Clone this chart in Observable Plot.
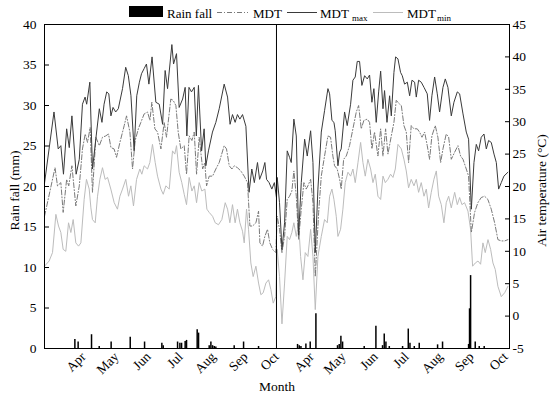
<!DOCTYPE html>
<html><head><meta charset="utf-8">
<script src="https://cdn.jsdelivr.net/npm/d3@7"></script>
<script src="https://cdn.jsdelivr.net/npm/@observablehq/plot@0.6"></script>
<style>
body{margin:0;background:#fff;}
#wrap{position:relative;width:550px;height:398px;font-family:"Liberation Serif","Times New Roman",serif;}
#legend{position:absolute;left:0;top:0;}
</style></head><body><div id="wrap"></div>
<script>
// x unit: day index along the two growing seasons (season 2 starts at the divider)
const monthTickDays   = [37, 68.3, 98.6, 129, 160.3, 190.6, 220, 253.3, 283.6, 314, 343.4, 375.6, 405, 437.3];
const monthTickLabels = ["Apr","May","Jun","Jul","Aug","Sep","Oct","Apr","May","Jun","Jul","Aug","Sep","Oct"];
const seasonDivider = 220;
const rainTicks = [0,5,10,15,20,25,30,35,40];
const tempTicks = [-5,0,5,10,15,20,25,30,35,40,45];

// [day, °C]
const mdtMax1 = [[0,20.5],[9,31.5],[13,25.8],[15.5,26.3],[18,21.9],[21,28.9],[23.5,26],[26,30.9],[30,21.9],[33,24.2],[36,32.7],[38.5,33.8],[40,32.7],[43,36.1],[45.5,22.7],[49,27.8],[52,32],[54.5,29.9],[56.5,32.7],[59,34.6],[61,34.3],[63,30.9],[65,32.2],[67.5,31.5],[70,32],[74,35.1],[77,38.4],[79.5,37.1],[82,34],[85,25.5],[87.5,34],[90,36.1],[92,37.4],[94.5,38.2],[96.7,38.9],[99,35.8],[102,40],[105.6,33],[108.8,32.7],[112,29.6],[114.4,37.9],[116.7,35.1],[120.8,41.9],[122.4,38.9],[125.2,40.5],[127.7,32.2],[131,33.5],[133.4,35.3],[135,27.8],[137,35.3],[139.4,34.6],[142,35.3],[144,27.8],[146,35.6],[149,25.5],[151.4,28.9],[153,23.2],[155.5,25.5],[159.3,28.4],[162.5,29.9],[165.7,32],[170.4,35.8],[173.6,33.8],[176,29.6],[178.3,31.1],[180.8,29.9],[183,31.1],[185.3,30.4],[187.8,31.1],[191,29.3],[194,19.1],[196.6,22.7],[199,20.6],[202,23.7],[204,21.1],[207,22.4],[209,23.7],[210.6,21.1],[213,20.6],[215.6,19.6],[218,20.6],[220,18.3]];
const mdtMax2 = [[220.7,21.4],[222.9,17.5],[225.2,10.3],[227.7,14.4],[230.2,25.5],[232.4,24.5],[234,23.7],[236.5,30.4],[238.8,27.8],[241,12.5],[243.5,20.6],[246.7,27.3],[249.2,24.7],[252.4,28.6],[254.6,23.7],[256.8,9.8],[259.3,19.6],[262.5,28.4],[265.6,31.7],[268.8,35.1],[270.4,34.3],[272.6,30.2],[274.5,29.9],[275.7,28.6],[278.3,23.2],[279.9,25.3],[281.4,25.8],[284.6,31.5],[287.1,29.4],[290.3,32.7],[292.5,36.4],[294.7,36.9],[296.6,39.3],[298.8,39.3],[301,35.6],[303.6,37.1],[306.1,36.6],[308.3,37.2],[310.5,33],[312.4,35.1],[314.6,29.9],[316.9,34.6],[318.8,37.8],[321,32],[322.5,34.8],[324.8,29.9],[327.3,34],[328.9,30.9],[331.4,37.6],[333,40],[335.2,39.7],[337.7,37.6],[339.3,37.1],[341.5,35.8],[344.1,36.1],[346.3,34],[348.5,36.4],[351,36.1],[352.6,33.8],[354.8,36.4],[357.3,36.1],[359.9,35.3],[363,34.3],[365.2,30.2],[367.4,34],[370,36.9],[372.5,34.3],[374.7,31.5],[377.9,35.3],[380.1,36.6],[382.6,35.3],[385.8,30.9],[388.3,33],[391.5,34.6],[393.7,34.3],[396.9,31.2],[400,28.4],[402.2,27.3],[404.8,16.5],[407.3,23.7],[409.5,26.5],[411.7,25.5],[414.2,27.6],[416.8,28.1],[419,25.8],[421.2,27.1],[423.7,26.8],[426.3,25],[428.5,23.7],[430.7,19.6],[433.2,20.6],[435.7,21.6],[439.5,22.2]];
const mdt1 = [[0,15.4],[10,22.9],[12.3,20.1],[15.5,20.6],[17.7,16],[21,21.1],[23,20.1],[26,23.2],[29.7,17],[33,20.1],[36,25.8],[38.6,28.1],[40.8,26.8],[43.3,29.1],[45.5,19.1],[48.7,27.6],[52,26.3],[55,27.6],[58,27.8],[60.7,28.1],[63,26],[66,25.8],[68.3,24.5],[71.5,26.8],[75.6,29.4],[77.8,30.9],[81,28.4],[83.5,22.7],[86,27.1],[89,28.9],[91.4,29.9],[94.5,31.2],[97.7,31.5],[100,30.2],[101.8,33],[104.7,28.9],[107.2,28.4],[110.4,25.8],[113.5,29.9],[115.7,27.6],[119.8,33.5],[122,33.3],[124.6,32.5],[126.8,28.4],[129.3,25.8],[132.5,26.3],[134.7,21.9],[137.2,27.8],[139.8,27.1],[142,28.4],[144.2,21.9],[146.7,27.6],[150,22.7],[152,23.7],[153.7,20.1],[156.2,21.6],[159.4,21.6],[162.5,22.7],[165.7,23.7],[170.4,26.3],[172.6,25.8],[175.2,23.2],[177.7,22.7],[180,23.2],[183,22.9],[186.2,22.4],[189.4,21.6],[192.5,20.6],[194.8,13.9],[197.3,13.9],[200.5,14.4],[203,16.2],[204.3,11.3],[206.8,10.8],[209,12.3],[211.5,13.4],[213.7,11.3],[216.3,10.3],[219.4,9.8]];
const mdt2 = [[220.7,15.4],[222.9,13.4],[225.2,9.8],[227.7,12.3],[230.2,18],[232.4,18.5],[234.6,19.3],[236.5,22.4],[238.8,18.5],[241,11.8],[243.5,16.5],[246,20.6],[248.2,19.6],[249.8,20.1],[252.4,21.1],[254.6,17.5],[256.8,6.1],[260,16],[262.5,21.6],[265.6,24.7],[268.8,27.8],[271.3,27.6],[273.5,24.7],[275.1,23.2],[277.6,22.7],[279.9,21.1],[281.4,19.6],[283.7,24.2],[286.2,24.7],[289.3,26.3],[292.5,28.9],[295.7,31.5],[297.9,32.5],[300.4,28.9],[302.9,30.2],[306.1,30.4],[308.3,29.9],[310.5,25.8],[313,28.4],[316.2,24.7],[318.8,28.9],[321,24.7],[323.5,28.9],[325.7,25],[328.9,27.8],[331.4,29.9],[333.6,33.3],[336.8,32.7],[338.4,32.5],[340.9,29.4],[343.1,28.4],[345.3,23.7],[347.8,29.4],[350.4,28.9],[353.5,28.9],[355.7,28.4],[358,27.6],[360.5,28.4],[363,26.3],[365.2,24.2],[367.4,27.8],[370.6,29.4],[373.1,27.6],[375.7,23.7],[377.9,25.8],[381,28.1],[383.3,27.6],[385.8,24.2],[389,25.3],[392.1,26.3],[394.6,24.7],[396.9,24.2],[400,22.7],[402.2,21.6],[404.8,12.9],[407.9,16],[411,17.5],[414.2,18.3],[417.4,18.5],[420.5,18],[423.7,16.5],[426.9,14.4],[430,11.8],[433.2,11.6],[436.4,11.6],[439.5,11.8]];
const mdtMin1 = [[0,7.7],[4.4,8.5],[7.6,9.8],[10.8,15.7],[13.3,13.9],[15.5,12.9],[17.7,10.3],[20.2,10],[22.8,14.4],[25,12.9],[27.2,14.9],[29.7,11.3],[32.3,10.8],[34.5,11.3],[37.6,18],[39.8,21.1],[42.4,19.6],[44,16.7],[45.5,14.9],[48.1,14.4],[50.3,18.5],[52.5,21.1],[55,22.9],[57.5,21.1],[59.8,21.4],[62.9,19.6],[66.1,17.5],[69.2,16.5],[71.5,18.5],[74,19.6],[77.1,21.1],[79.7,18.5],[81.9,20.1],[84.4,17],[87.3,21.1],[90.4,22.7],[92.3,21.9],[94.5,23.2],[97.7,22.7],[99.9,23.7],[102.4,26.5],[105,23.7],[107.2,21.6],[110.4,19.6],[112.6,18.8],[115.1,20.1],[118.3,19.6],[121.4,25.5],[123.6,25],[125.2,26.3],[127.7,22.2],[130.2,20.6],[132.5,18.8],[134.7,17.2],[137.2,21.4],[139.8,19.3],[142,20.1],[144.2,17.5],[146.7,20.6],[149.2,19.3],[152.1,19.6],[154,16.5],[156.2,16],[159.4,15.4],[161.9,14.4],[165,14.1],[168.2,14.9],[171.4,17.5],[173.6,16.5],[175.8,14.4],[178.3,17.2],[180.8,14.4],[183,16.5],[185.3,14.4],[187.8,13.1],[189.4,11.3],[191.6,16.5],[193.5,13.4],[195.7,8.2],[197.9,6.1],[200.5,7.7],[203,5.1],[205.2,3.3],[207.4,3.6],[210,5.1],[212.5,5.6],[214.7,4.1],[216.9,2],[219.4,3]];
const mdtMin2 = [[220.7,10.3],[222.9,6.1],[225.2,-1.2],[227.7,5.1],[230.2,12.3],[232.4,11.8],[234.6,12.9],[236.5,14.4],[238.8,12.3],[241,14.4],[242.9,9.2],[245.1,5.6],[247.3,9.8],[249.8,9.2],[252.4,13.4],[254.6,9.2],[256.8,1],[259.3,9.2],[262.5,12.3],[265.6,14.9],[268.2,14.4],[270.4,18.5],[272.6,19.6],[274.5,18],[276.7,15.4],[278.3,12.3],[280.8,13.4],[283,16.5],[285.2,20.6],[287.8,22.2],[290.3,21.6],[292.5,22.7],[294.7,20.6],[297.3,23.7],[299.8,26.8],[302,23.7],[304.2,21.6],[306.7,24.2],[309.3,22.7],[311.5,20.6],[313.7,21.9],[316.2,18.5],[318.8,18],[321,21.6],[323.2,20.6],[325.7,21.1],[328.2,21.9],[330.5,21.4],[332.7,22.7],[335.2,26.5],[338.4,25.8],[340.9,24.2],[343.1,22.4],[345.3,19.8],[347.8,21.1],[350.4,20.1],[352.6,21.1],[354.8,19.1],[357.3,20.6],[359.9,18.5],[362.1,19.6],[364.3,16.7],[366.8,19.1],[369.3,21.1],[371.6,22.4],[373.8,18.5],[376.3,17.2],[378.8,14.4],[381,17.5],[383.3,18.5],[385.8,16.7],[389,19.1],[391.5,17.2],[393.7,18.3],[395.9,17.2],[398.4,17.5],[401.6,16.2],[404.1,13.4],[406,7.7],[408.6,8.2],[411.1,8.5],[413.6,8],[415.8,11.3],[418,9.8],[420.6,11.8],[423.1,10.3],[425.3,8.2],[427.5,7.2],[430,4.6],[433.2,3],[436.4,3.6],[439.5,4.6]];
// [day, mm]
const rain1 = [[28.8,1.1],[31.9,0.8],[44.6,1.7],[51.9,0.25],[63.2,0.8],[81.3,1.4],[94.9,0.8],[111.3,0.65],[112.6,0.35],[126.2,0.8],[128.4,0.65],[130,0.65],[133.4,0.85],[134.7,1],[144.8,2.3],[146.1,1.9],[156.2,0.35],[157.8,0.8],[159.4,0.35],[161,0.25],[162.5,0.2],[179.9,0.35],[188.8,0.8],[203,0.25]];
const rain2 = [[240,0.5],[241.6,0.35],[243.2,0.25],[247.9,0.57],[252,0.8],[257.4,4.3],[277.9,0.35],[279.5,0.5],[281.1,1.5],[282.7,0.8],[303.2,0.25],[314.3,2.75],[320.6,0.35],[322.2,1.8],[323.8,0.8],[327,0.25],[339.6,0.25],[345,2.4],[346.6,0.65],[350.7,0.25],[355.4,0.65],[372.8,0.45],[377.5,0.8],[402.2,0.5],[403.1,4.9],[404.1,9],[408.5,0.8],[412.3,0.25],[417,0.25]];

// temperature axis (-5..45 °C) shares the frame with rain axis (0..40 mm)
const toRain = t => (t + 5) * 40 / 50;
const toTemp = m => m * 50 / 40 - 5;

const rows = a => a.map(([day, t]) => ({day, t}));
const maxRows = rows(mdtMax1.concat(mdtMax2));
const mdtRows = rows(mdt1.concat(mdt2));
const minRows = rows(mdtMin1.concat(mdtMin2));
const rainRows = rain1.concat(rain2).map(([day, mm]) => ({day, mm}));
const labelOf = new Map(monthTickDays.map((d, i) => [d, monthTickLabels[i]]));

const FONT = "Liberation Serif, Times New Roman, serif";
const cMax = "#3a3a3a", cMdt = "#7a7a7a", cMin = "#bcbcbc";
const dash = "5,2,1,2";

const chart = Plot.plot({
  width: 550, height: 398,
  marginLeft: 44, marginRight: 41, marginTop: 24, marginBottom: 50,
  style: {fontFamily: FONT, fontSize: "13.5px", color: "#000", background: "#fff", overflow: "visible"},
  x: {domain: [0, 441]},
  y: {domain: [0, 40]},
  marks: [
    Plot.ruleX(rainRows, {x: "day", y1: 0, y2: "mm", stroke: "#000", strokeWidth: 1.5}),
    Plot.line(minRows, {x: "day", y: d => toRain(d.t), stroke: cMin, strokeWidth: 1}),
    Plot.line(mdtRows, {x: "day", y: d => toRain(d.t), stroke: cMdt, strokeWidth: 1, strokeDasharray: dash}),
    Plot.line(maxRows, {x: "day", y: d => toRain(d.t), stroke: cMax, strokeWidth: 1}),
    Plot.ruleX([seasonDivider], {stroke: "#000", strokeWidth: 1}),
    Plot.frame({stroke: "#000", strokeWidth: 1}),
    // left axis: labels + inward ticks
    Plot.axisY(rainTicks, {anchor: "left", tickSize: 0, tickPadding: 8, label: null, fontSize: 13.5}),
    Plot.axisY(rainTicks, {anchor: "left", tickSize: 5, dx: 5, tickFormat: () => "", label: null}),
    // right axis: temperature
    Plot.axisY(tempTicks.map(toRain), {anchor: "right", tickSize: 0, tickPadding: 3, label: null, fontSize: 13.5,
      tickFormat: d => String(Math.round(toTemp(d)))}),
    Plot.axisY(tempTicks.map(toRain), {anchor: "right", tickSize: 5, dx: -5, tickFormat: () => "", label: null}),
    // bottom axis: months
    Plot.axisX(monthTickDays, {anchor: "bottom", tickSize: 0, tickPadding: 6, tickRotate: -45, label: null, fontSize: 13.5,
      tickFormat: d => labelOf.get(d)}),
    Plot.text(["Rain fall (mm)"], {frameAnchor: "left", textAnchor: "middle", dx: -30, dy: 4, rotate: -90, fontSize: 13.5, fill: "#000"}),
    Plot.text(["Air temperature (°C)"], {frameAnchor: "right", textAnchor: "middle", dx: 32, dy: 4, rotate: -90, fontSize: 13.5, fill: "#000"}),
    Plot.text(["Month"], {frameAnchor: "bottom", dy: 42, fontSize: 13.5, fill: "#000"})
  ]
});
const wrap = document.getElementById("wrap");
wrap.appendChild(chart);

// legend overlay in the top margin
const legendItems = [
  {kind: "rect", x: 129, w: 34, label: "Rain fall", sub: "", tx: 167},
  {kind: "line", x: 217, w: 31, label: "MDT", sub: "", tx: 253, stroke: cMdt, dash},
  {kind: "line", x: 287, w: 30, label: "MDT", sub: "max", tx: 320, stroke: cMax},
  {kind: "line", x: 373, w: 30, label: "MDT", sub: "min", tx: 407, stroke: cMin}
];
const svg = d3.select(wrap).append("svg").attr("id", "legend").attr("width", 550).attr("height", 24)
  .style("font-family", FONT).style("font-size", "13px");
for (const it of legendItems) {
  if (it.kind === "rect") svg.append("rect").attr("x", it.x).attr("y", 6).attr("width", it.w).attr("height", 11).attr("fill", "#000");
  else svg.append("line").attr("x1", it.x).attr("x2", it.x + it.w).attr("y1", 12.5).attr("y2", 12.5)
    .attr("stroke", it.stroke).attr("stroke-width", 1).attr("stroke-dasharray", it.dash || null);
  const t = svg.append("text").attr("x", it.tx).attr("y", 18).attr("fill", "#000").text(it.label);
  if (it.sub) t.append("tspan").attr("dx", it.sub === "max" ? 3 : 1).attr("dy", 3).attr("font-size", 9).text(it.sub);
}
</script></body></html>
